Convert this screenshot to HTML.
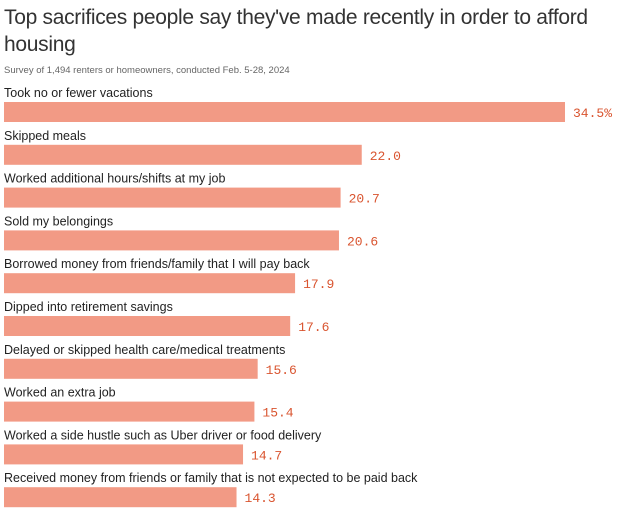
<!DOCTYPE html>
<html><head><meta charset="utf-8"><style>
body{margin:0;width:618px;height:513px;background:#fff;overflow:hidden;font-family:"Liberation Sans",sans-serif;}
#title{position:absolute;left:4px;top:4px;width:610px;font-size:21px;line-height:27px;color:#333;letter-spacing:-0.3px}
#sub{position:absolute;left:4px;top:65px;font-size:9.5px;color:#666}
svg{position:absolute;left:0;top:0}
</style></head><body>
<div id="title">Top sacrifices people say they've made recently in order to afford housing</div>
<div id="sub">Survey of 1,494 renters or homeowners, conducted Feb. 5-28, 2024</div>
<svg id="chart" width="618" height="513"></svg>
<script>
const categories=["Took no or fewer vacations","Skipped meals","Worked additional hours/shifts at my job","Sold my belongings","Borrowed money from friends/family that I will pay back","Dipped into retirement savings","Delayed or skipped health care/medical treatments","Worked an extra job","Worked a side hustle such as Uber driver or food delivery","Received money from friends or family that is not expected to be paid back"];
const values=[34.5,22.0,20.7,20.6,17.9,17.6,15.6,15.4,14.7,14.3];
const valueLabels=["34.5%","22.0","20.7","20.6","17.9","17.6","15.6","15.4","14.7","14.3"];
const svg=document.getElementById('chart');
const NS='http://www.w3.org/2000/svg';
const x0=4,pxPerUnit=561/34.5;
const xScale=v=>v*pxPerUnit;
const yScale=i=>102+i*42.8;
categories.forEach((c,i)=>{
  const y=yScale(i);
  const t=document.createElementNS(NS,'text');
  
  
  t.setAttribute('x',x0);t.setAttribute('y',y-5);
  t.setAttribute('font-size','12.5');t.setAttribute('fill','#222');
  t.setAttribute('font-family','Liberation Sans, sans-serif');
  t.textContent=c;svg.appendChild(t);
  const r=document.createElementNS(NS,'rect');
  
  
  r.setAttribute('x',x0);r.setAttribute('y',y);
  r.setAttribute('width',xScale(values[i]));r.setAttribute('height',20);
  r.setAttribute('fill','#f29a85');svg.appendChild(r);
  const v=document.createElementNS(NS,'text');
  
  
  v.setAttribute('x',x0+xScale(values[i])+8);v.setAttribute('y',y+15);
  v.setAttribute('font-size','13');v.setAttribute('fill','#d9542f');
  v.setAttribute('font-family','Liberation Mono, monospace');
  v.textContent=valueLabels[i];svg.appendChild(v);
});
</script>
</body></html>
